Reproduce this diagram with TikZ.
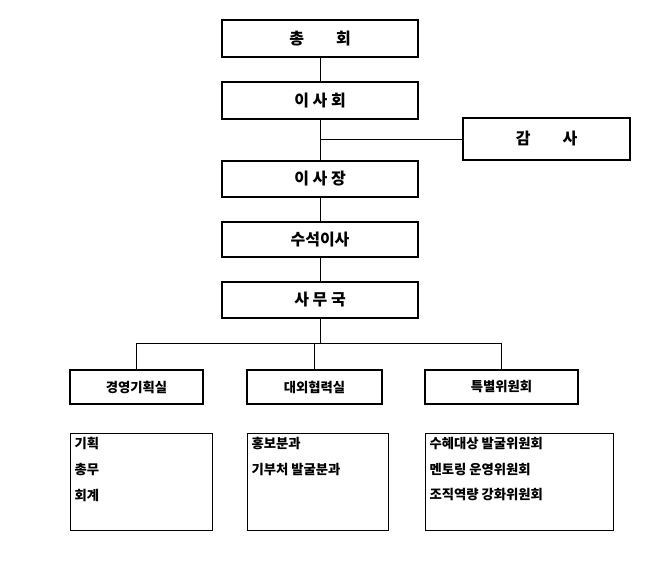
\documentclass[tikz,border=0pt]{standalone}
\usepackage{fontspec}
\setmainfont{Noto Sans CJK KR}
\usetikzlibrary{positioning}
\newlength{\px}\setlength{\px}{0.75pt}
\newcommand{\tasklist}[2]{\parbox[t][89\px][t]{#1}{\linespread{1.6}\selectfont #2}}
\tikzset{
  orgbox/.style={draw, line width=0.8pt, minimum width=196\px, minimum height=37\px, font=\bfseries\large, inner sep=0pt},
  unitbox/.style={draw, line width=0.8pt, minimum height=34\px, font=\bfseries, inner sep=0pt},
  listbox/.style={draw, line width=0.8pt, anchor=north west, font=\bfseries, inner sep=4\px},
  link/.style={line width=0.6pt}
}
\begin{document}
\begin{tikzpicture}[x=0.75pt, y=-0.75pt]
  \useasboundingbox (0,0) rectangle (670,577);

  % upper chain
  \node[orgbox] (assembly) at (320, 38.5) {총\hspace{2em}회};
  \node[orgbox] (board) at (320, 100.5) {이 사 회};
  \node[orgbox, minimum width=167\px, minimum height=42\px] (audit) at (546.5, 139) {감\hspace{2em}사};
  \node[orgbox, minimum height=36\px] (chair) at (320, 179) {이 사 장};
  \node[orgbox, minimum height=35\px] (chief) at (320, 239.5) {수석이사};
  \node[orgbox, minimum height=36\px] (office) at (320, 300) {사 무 국};

  \draw[link] (assembly) -- (board);
  \draw[link] (board) -- (chair);
  \draw[link] (320, 139) -- (audit.west);
  \draw[link] (chair) -- (chief);
  \draw[link] (chief) -- (office);

  % departments
  \node[unitbox, minimum width=133\px] (plan) at (136.5, 387) {경영기획실};
  \node[unitbox, minimum width=135\px] (pr) at (314.5, 387) {대외협력실};
  \node[unitbox, minimum width=153\px] (special) at (501.5, 387) {특별위원회};

  \coordinate (split) at (320, 343);
  \draw[link] (office) -- (split);
  \draw[link] (plan.north |- split) -- (special.north |- split);
  \foreach \d in {plan, pr, special}
    \draw[link] (\d.north |- split) -- (\d.north);

  % task lists
  \node[listbox] (plantasks) at (70, 433) {\tasklist{134\px}{기획\\총무\\회계}};
  \node[listbox] (prtasks) at (247, 433) {\tasklist{133\px}{홍보분과\\기부처 발굴분과}};
  \node[listbox] (specialtasks) at (425, 433) {\tasklist{180\px}{수혜대상 발굴위원회\\멘토링 운영위원회\\조직역량 강화위원회}};
\end{tikzpicture}
\end{document}
